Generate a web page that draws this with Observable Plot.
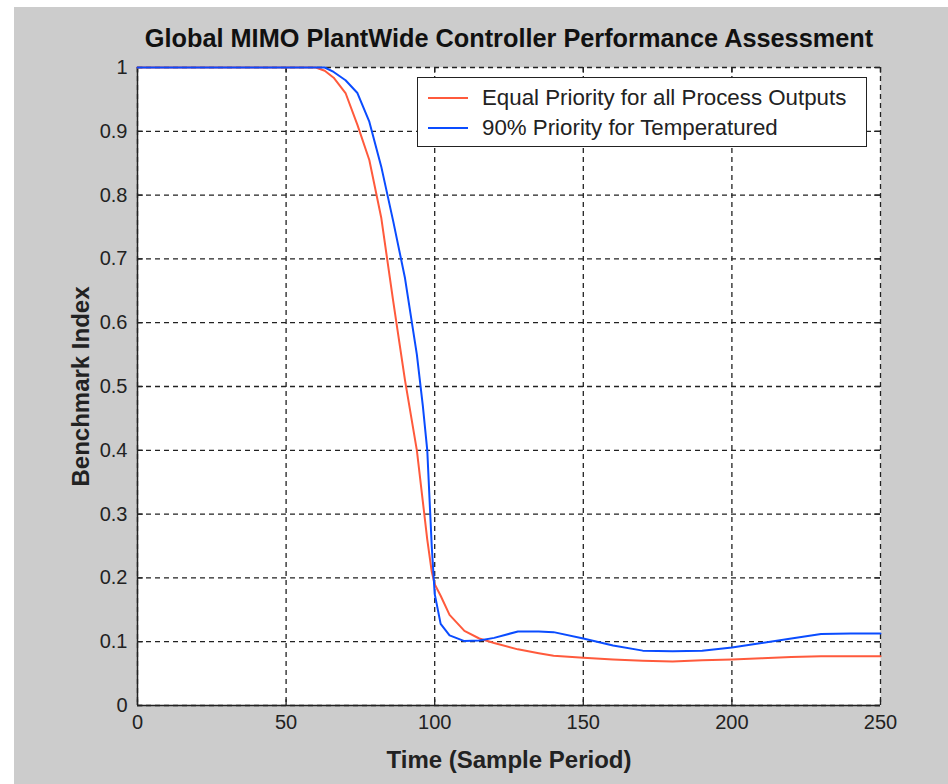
<!DOCTYPE html>
<html><head><meta charset="utf-8">
<script src="https://cdn.jsdelivr.net/npm/d3@7"></script>
<script src="https://cdn.jsdelivr.net/npm/@observablehq/plot@0.6"></script>
<style>
html,body{margin:0;padding:0;background:#fff;}
#wrap{position:relative;width:948px;height:784px;overflow:hidden;}
#chart{position:absolute;left:14px;top:7px;}
#chart svg{background:#cccccc;display:block;}
#legend{position:absolute;left:417px;top:77px;width:450px;height:70px;border:1.5px solid #222;background:#fff;
  font-family:"Liberation Sans",Arial,sans-serif;font-size:22.3px;color:#222;box-sizing:border-box;}
#legend .row{position:absolute;left:10px;height:30px;display:flex;align-items:center;}
#legend .row svg{margin-right:14px;}
g[aria-label="y-axis label"] text, g[aria-label="x-axis label"] text{font-weight:bold;font-size:24px;}
</style>
</head><body>
<div id="wrap"><div id="chart"></div><div id="legend"></div></div>
<script>
const titleText = "Global MIMO PlantWide Controller Performance Assessment";
const xLabel = "Time (Sample Period)";
const yLabel = "Benchmark Index";
const seriesNames = ["Equal Priority for all Process Outputs", "90% Priority for Temperatured"];
const seriesColors = ["#ff5a3c", "#0a4cff"];
const xTicks = [0, 50, 100, 150, 200, 250];
const yTicks = [0, 0.1, 0.2, 0.3, 0.4, 0.5, 0.6, 0.7, 0.8, 0.9, 1];
const yTickLabels = ["0", "0.1", "0.2", "0.3", "0.4", "0.5", "0.6", "0.7", "0.8", "0.9", "1"];

const time = [0, 20, 40, 55, 60, 63, 66, 70, 74, 78, 82, 86, 90, 94, 96, 97.5, 99, 100, 102, 105, 110, 115, 120, 128, 135, 140, 150, 160, 170, 180, 190, 200, 210, 220, 230, 240, 250];
const equalPriority = [1, 1, 1, 1, 1, 0.995, 0.984, 0.96, 0.91, 0.855, 0.765, 0.635, 0.51, 0.40, 0.32, 0.26, 0.21, 0.19, 0.172, 0.142, 0.117, 0.105, 0.098, 0.088, 0.082, 0.078, 0.075, 0.072, 0.070, 0.069, 0.071, 0.072, 0.074, 0.076, 0.077, 0.077, 0.077];
const tempPriority = [1, 1, 1, 1, 1, 1, 0.993, 0.98, 0.96, 0.915, 0.845, 0.76, 0.67, 0.55, 0.47, 0.40, 0.25, 0.175, 0.128, 0.110, 0.101, 0.102, 0.106, 0.116, 0.116, 0.115, 0.105, 0.094, 0.086, 0.085, 0.086, 0.091, 0.098, 0.105, 0.112, 0.113, 0.113];

const rowsA = time.map((t, i) => ({t, v: equalPriority[i]}));
const rowsB = time.map((t, i) => ({t, v: tempPriority[i]}));

const font = '"Liberation Sans", Arial, sans-serif';
const dash = "5,4";
const tickLenX = 0.009;   // inward tick length in y units
const tickLenY = 2.0;     // inward tick length in x units

const chart = Plot.plot({
  width: 934, height: 777,
  marginLeft: 123, marginRight: 68, marginTop: 60, marginBottom: 79,
  style: {fontFamily: font, fontSize: "20px", color: "#222", background: "#cccccc"},
  x: {domain: [0, 250]},
  y: {domain: [0, 1]},
  marks: [
    Plot.frame({fill: "white", stroke: "none"}),
    Plot.gridX(xTicks, {stroke: "#222", strokeOpacity: 1, strokeWidth: 1.3, strokeDasharray: dash}),
    Plot.gridY(yTicks, {stroke: "#222", strokeOpacity: 1, strokeWidth: 1.3, strokeDasharray: dash}),
    Plot.ruleX(xTicks, {x: d => d, y1: 0, y2: tickLenX, stroke: "#222", strokeWidth: 1.3}),
    Plot.ruleX(xTicks, {x: d => d, y1: 1 - tickLenX, y2: 1, stroke: "#222", strokeWidth: 1.3}),
    Plot.ruleY(yTicks, {y: d => d, x1: 0, x2: tickLenY, stroke: "#222", strokeWidth: 1.3}),
    Plot.ruleY(yTicks, {y: d => d, x1: 250 - tickLenY, x2: 250, stroke: "#222", strokeWidth: 1.3}),
    Plot.ruleX([0], {stroke: "#222", strokeWidth: 1.5}),
    Plot.ruleY([0], {stroke: "#222", strokeWidth: 1.5}),
    Plot.line(rowsA, {x: "t", y: "v", stroke: seriesColors[0], strokeWidth: 2}),
    Plot.line(rowsB, {x: "t", y: "v", stroke: seriesColors[1], strokeWidth: 2}),
    Plot.axisX({ticks: xTicks, tickSize: 0, tickPadding: 9, fontSize: 20, label: xLabel, labelAnchor: "center", labelArrow: "none", labelOffset: 62}),
    Plot.axisY({ticks: yTicks, tickSize: 0, tickPadding: 10, fontSize: 20, tickFormat: (d) => yTickLabels[yTicks.indexOf(d)], label: yLabel, labelAnchor: "center", labelArrow: "none", labelOffset: 66}),
    Plot.text([titleText], {frameAnchor: "top", dy: -38, fontSize: 25.3, fontWeight: "bold", fill: "#111"})
  ]
});
document.getElementById("chart").appendChild(chart);

const legend = document.getElementById("legend");
seriesNames.forEach((name, i) => {
  const row = document.createElement("div");
  row.className = "row";
  row.style.top = (5 + i * 30) + "px";
  row.innerHTML = `<svg width="40" height="4"><line x1="0" x2="40" y1="2" y2="2" stroke="${seriesColors[i]}" stroke-width="2"/></svg><span>${name}</span>`;
  legend.appendChild(row);
});
</script>
</body></html>
